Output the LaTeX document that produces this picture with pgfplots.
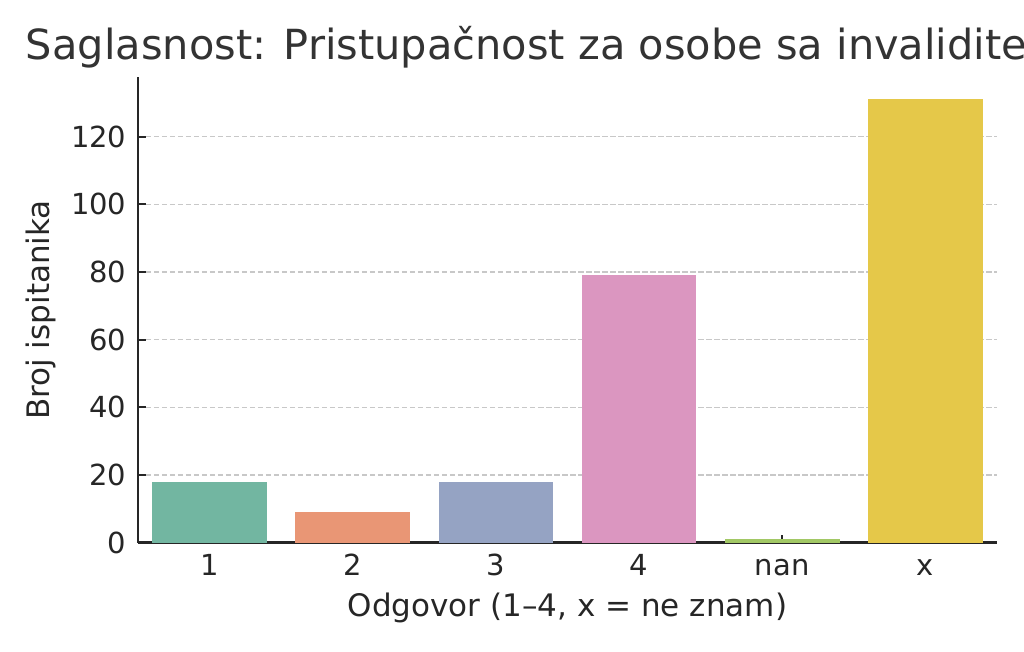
\documentclass[border=0pt]{standalone}
\usepackage{fontspec}
\setmainfont{DejaVu Sans}
\usepackage{pgfplots}
\pgfplotsset{compat=1.18}

\definecolor{ink}{HTML}{262626}
\definecolor{titleink}{HTML}{333333}
\definecolor{gridc}{HTML}{C8C8C8}
\definecolor{c1}{RGB}{114,182,161}
\definecolor{c2}{RGB}{233,150,117}
\definecolor{c3}{RGB}{149,163,195}
\definecolor{c4}{RGB}{219,150,192}
\definecolor{c5}{RGB}{162,200,101}
\definecolor{c6}{RGB}{229,200,73}

\begin{document}
\begin{tikzpicture}
\path[use as bounding box] (-69pt,-54.7pt) rectangle (443pt,271.3pt);
\begin{axis}[
    scale only axis,
    width=429.5pt, height=232.65pt,
    xmin=-0.5, xmax=5.5,
    ymin=0, ymax=137.55,
    axis x line*=bottom,
    axis y line*=left,
    axis line style={ink, line width=1.25pt},
    tick align=inside,
    major tick length=4pt,
    every tick/.style={ink, line width=1pt},
    xtick={0,1,2,3,4,5},
    xticklabels={1,2,3,4,nan,x},
    ytick={0,20,40,60,80,100,120},
    /pgf/number format/assume math mode=true,
    tick label style={font=\fontsize{14.5pt}{17pt}\selectfont, text=ink, inner sep=0pt},
    xticklabel style={anchor=base, yshift=-16.7pt},
    yticklabel style={anchor=east, xshift=-5.6pt},
    ymajorgrids=true,
    major grid style={gridc, line width=0.6pt, dash pattern=on 2.75pt off 1.25pt},
    title={Saglasnost: Pristupačnost za osobe sa invaliditetom},
    title style={at={(axis description cs:0.5,1.0135)}, anchor=base, inner sep=0pt,
                 font=\fontsize{20.75pt}{24pt}\selectfont, text=titleink},
    xlabel={Odgovor (1–4, x = ne znam)},
    xlabel style={at={(axis description cs:0.5,-0.1599)}, anchor=base, inner sep=0pt,
                  font=\fontsize{15.5pt}{18pt}\selectfont, text=ink},
    ylabel={Broj ispitanika},
    ylabel style={at={(axis description cs:-0.1135,0.5)}, anchor=center, inner sep=0pt,
                  font=\fontsize{15.5pt}{18pt}\selectfont, text=ink},
]
\addplot[ybar, bar width=0.8, bar shift=0pt, fill=c1, draw=none] coordinates {(0,18)};
\addplot[ybar, bar width=0.8, bar shift=0pt, fill=c2, draw=none] coordinates {(1,9)};
\addplot[ybar, bar width=0.8, bar shift=0pt, fill=c3, draw=none] coordinates {(2,18)};
\addplot[ybar, bar width=0.8, bar shift=0pt, fill=c4, draw=none] coordinates {(3,79)};
\addplot[ybar, bar width=0.8, bar shift=0pt, fill=c5, draw=none] coordinates {(4,1)};
\addplot[ybar, bar width=0.8, bar shift=0pt, fill=c6, draw=none] coordinates {(5,131)};
\end{axis}
\end{tikzpicture}
\end{document}
